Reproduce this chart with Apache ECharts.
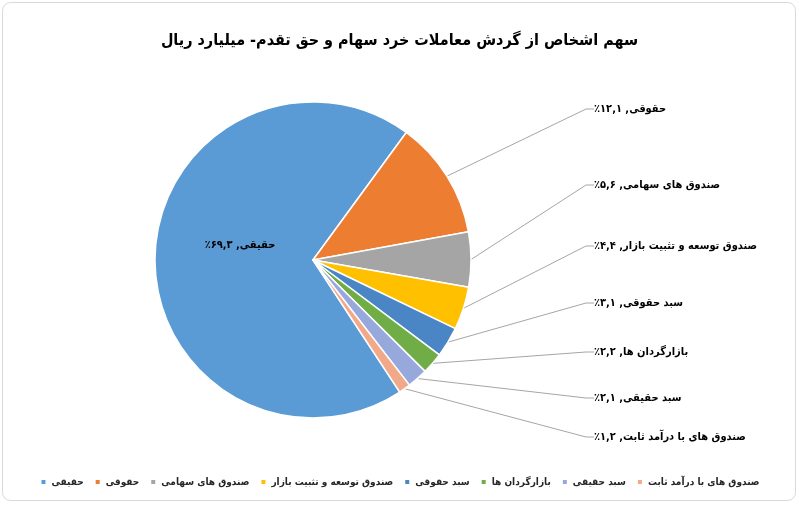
<!DOCTYPE html>
<html dir="rtl">
<head>
<meta charset="utf-8">
<script src="https://cdn.jsdelivr.net/npm/echarts@6/dist/echarts.min.js"></script>
<style>html,body{margin:0;padding:0;background:#fff}#c{width:799px;height:511px}</style>
</head>
<body>
<div id="c"></div>
<script>
const titleText = 'سهم اشخاص از گردش معاملات خرد سهام و حق تقدم- میلیارد ریال';
const categories = ['حقیقی', 'حقوقی', 'صندوق های سهامی', 'صندوق توسعه و تثبیت بازار', 'سبد حقوقی', 'بازارگردان ها', 'سبد حقیقی', 'صندوق های با درآمد ثابت'];
const shares = [69.3, 12.1, 5.6, 4.4, 3.1, 2.2, 2.1, 1.2];
const colors = ['#5B9BD5', '#ED7D31', '#A5A5A5', '#FFC000', '#4A86C5', '#70AD47', '#97A8DC', '#F2A98A'];

const labelY = [245, 109, 185, 246, 303, 352, 398, 437];
const FA = '۰۱۲۳۴۵۶۷۸۹';
function fa(v) { return String(v).replace('.', ',').replace(/\d/g, d => FA[d]); }

const font = '"DejaVu Sans Condensed", "DejaVu Sans", sans-serif';
const chart = echarts.init(document.getElementById('c'));
chart.setOption({
  backgroundColor: '#fff',
  animation: false,
  color: colors,
  graphic: [{
    type: 'rect', silent: true,
    shape: { x: 2.5, y: 2.5, width: 793, height: 498, r: 8 },
    style: { fill: 'none', stroke: '#d9d9d9', lineWidth: 1 }
  }],
  title: {
    text: titleText,
    left: 'center', top: 28,
    textStyle: { fontFamily: font, fontSize: 16, fontWeight: 'bold', color: '#000' }
  },
  legend: {
    bottom: 24, left: 'center', width: 790, padding: 0,
    icon: 'rect', itemWidth: 6, itemHeight: 6, itemGap: 10,
    textStyle: { fontFamily: font, fontSize: 10, fontWeight: 'bold', color: '#262626' },
    data: categories
  },
  series: [{
    type: 'pie',
    center: [313, 260],
    radius: 158,
    startAngle: -56.7,
    clockwise: true,
    avoidLabelOverlap: false,
    emphasis: { disabled: true },
    itemStyle: { borderColor: '#fff', borderWidth: 1.5 },
    label: {
      formatter: p => p.name + ', ' + fa(p.value) + '٪',
      fontFamily: font, fontSize: 11, fontWeight: 'bold', color: '#000'
    },
    labelLine: { show: true, length: 15, length2: 8, lineStyle: { color: '#a6a6a6', width: 1 } },
    labelLayout: function (params) {
      const i = params.dataIndex;
      if (i === 0) return { x: 240, y: labelY[0], align: 'center', verticalAlign: 'middle' };
      return { x: 594, y: labelY[i], align: 'left', verticalAlign: 'middle' };
    },
    data: categories.map((n, i) => i === 0
      ? { name: n, value: shares[i], label: { position: 'inside' }, labelLine: { show: false } }
      : { name: n, value: shares[i] })
  }]
});
</script>
</body>
</html>
